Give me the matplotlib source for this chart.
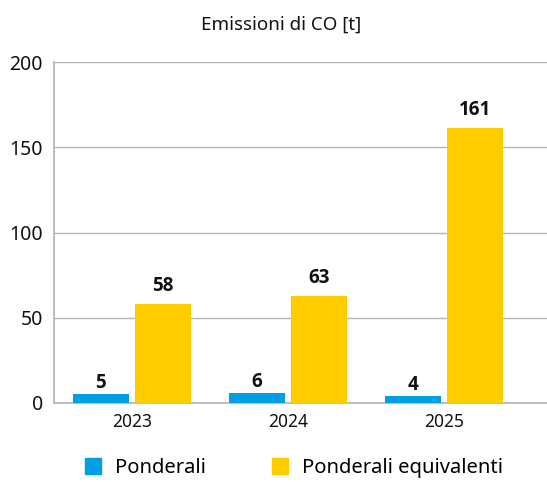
import matplotlib
matplotlib.use("Agg")
import matplotlib.pyplot as plt
import numpy as np
from matplotlib.patches import Patch

categories = ["2023", "2024", "2025"]
ponderali = [5, 6, 4]
equivalenti = [58, 63, 161]
series_names = ["Ponderali", "Ponderali equivalenti"]
yticks = [0, 50, 100, 150, 200]
title = "Emissioni di CO [t]"

blue = "#009FE3"
yellow = "#FFCC00"
grid_c = "#B3B3B3"

plt.rcParams['font.family'] = ['Noto Sans', 'DejaVu Sans']

fig = plt.figure(figsize=(5.47, 4.82), dpi=100)
ax = fig.add_axes([54/547, 1-403/482, 1-54/547, (403-62)/482])

x = np.arange(len(categories))
w = 0.36
off = 0.2
b1 = ax.bar(x - off, ponderali, w, color=blue, zorder=3)
b2 = ax.bar(x + off, equivalenti, w, color=yellow, zorder=3)

for bars, vals, gap in ((b1, ponderali, 6), (b2, equivalenti, 13)):
    for r, v in zip(bars, vals):
        ax.annotate(str(v), (r.get_x() + r.get_width()/2, v), xytext=(0, gap),
                    textcoords='offset pixels', ha='center', va='baseline',
                    fontsize=13.5, fontweight='bold',
                    family=['Open Sans', 'Lato', 'DejaVu Sans'], color='#111111')

ax.set_ylim(0, 200)
ax.set_yticks(yticks)
ax.set_xlim(-0.5, 2.66)
ax.set_xticks(x)
ax.set_xticklabels(categories, fontsize=12.5)
ax.yaxis.grid(True, color=grid_c, linewidth=1, zorder=0)
ax.set_axisbelow(True)
for s in ['top', 'right']:
    ax.spines[s].set_visible(False)
for s in ['left', 'bottom']:
    ax.spines[s].set_color(grid_c)
    ax.spines[s].set_linewidth(1.2)
ax.tick_params(axis='both', length=0, colors='#111111')
ax.tick_params(axis='y', pad=8, labelsize=14)
ax.tick_params(axis='x', pad=7)

fig.text(281/547, 1-25/482, title, ha='center', va='center', fontsize=13.5, color='#111111')

handles = [Patch(color=blue), Patch(color=yellow)]
fig.legend(handles, series_names, loc='center', bbox_to_anchor=(294/547, 1-468/482), ncol=2,
           frameon=False, fontsize=14.5, handlelength=0.8, handleheight=0.8,
           columnspacing=3.3, handletextpad=0.7)

fig.savefig("out.png", dpi=100)
